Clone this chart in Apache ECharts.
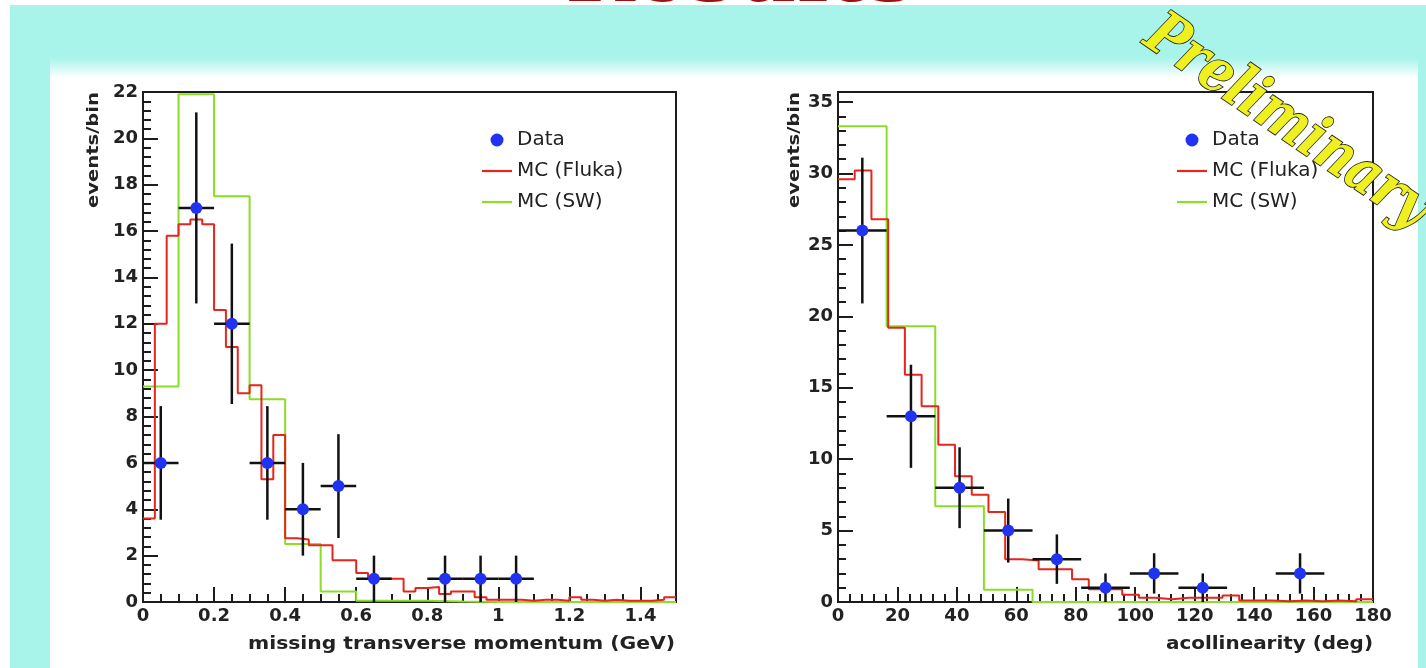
<!DOCTYPE html>
<html><head><meta charset="utf-8">
<script src="https://cdn.jsdelivr.net/npm/echarts@6/dist/echarts.min.js"></script>
<style>html,body{margin:0;padding:0;background:#fff}#c{width:1426px;height:668px}</style>
</head><body><div id="c"></div>
<script>
// ---------- DATA ----------
// Left: missing transverse momentum (GeV), range 0 - 1.5
const ptRange = [0, 1.5];
const ptData    = [6, 17, 12, 6, 4, 5, 1, 0, 1, 1, 1, 0, 0, 0, 0];            // 15 bins
const ptDataErr = [2.45, 4.12, 3.46, 2.45, 2.0, 2.24, 1.0, 0, 1.0, 1.0, 1.0, 0, 0, 0, 0];
const ptFluka = [3.6, 12.0, 15.8, 16.3, 16.5, 16.3, 12.6, 11.0, 9.0, 9.35,
                 5.3, 7.2, 2.75, 2.7, 2.45, 2.45, 1.8, 1.8, 1.25, 1.0,
                 1.0, 1.0, 0.45, 0.6, 0.65, 0.35, 0.45, 0.45, 0.2, 0.1,
                 0.1, 0.1, 0.05, 0.1, 0.1, 0.05, 0.2, 0.1, 0.05, 0.1,
                 0.05, 0.05, 0.05, 0.1, 0.2];                                   // 45 bins
const ptSW = [9.3, 21.9, 17.5, 8.75, 2.5, 0.45, 0.05, 0.05, 0.02, 0, 0, 0, 0, 0, 0]; // 15 bins
const ptXTicks = {min: 0, max: 1.5, step: 0.2};
const ptYTicks = {min: 0, max: 22, step: 2};

// Right: acollinearity (deg), range 0 - 180
const acRange = [0, 180];
const acData    = [26, 13, 8, 5, 3, 1, 2, 1, 0, 2, 0];                          // 11 bins
const acDataErr = [5.1, 3.61, 2.83, 2.24, 1.73, 1.0, 1.41, 1.0, 0, 1.41, 0];
const acFluka = [29.6, 30.2, 26.8, 19.2, 15.9, 13.7, 11.0, 8.8, 7.5, 6.3,
                 3.0, 2.9, 2.3, 2.3, 1.6, 0.9, 0.9, 0.5, 0.3, 0.2,
                 0.3, 0.3, 0.3, 0.45, 0.1, 0.1, 0.05, 0.1, 0.05, 0.1,
                 0.05, 0.2];                                                     // 32 bins
const acSW = [33.3, 19.3, 6.7, 0.85, 0, 0, 0, 0, 0, 0, 0];                       // 11 bins
const acXTicks = {min: 0, max: 180, step: 20};
const acYTicks = {min: 0, max: 35.7, step: 5};

const legendNames = ['Data', 'MC (Fluka)', 'MC (SW)'];
const titles = {
  ptX: 'missing transverse momentum (GeV)',
  acX: 'acollinearity (deg)',
  y: 'events/bin'
};

// ---------- helpers ----------
function stepData(vals, range) {
  const w = (range[1] - range[0]) / vals.length;
  const out = vals.map((v, i) => [range[0] + i * w, v]);
  out.push([range[1], vals[vals.length - 1]]);
  return out;
}
function pointData(vals, errs, range) {
  const w = (range[1] - range[0]) / vals.length;
  const out = [];
  vals.forEach((v, i) => { if (v > 0) out.push([range[0] + (i + 0.5) * w, v, errs[i], w / 2]); });
  return out;
}
const ctx = document.createElement('canvas').getContext('2d');
function measure(text, font) { ctx.font = font; return ctx.measureText(text).width; }

const C_RED = '#e4261c', C_GREEN = '#8cdc2a', C_BLUE = '#2133f2', C_INK = '#1c1c1c';
const labelFont = {fontFamily: 'DejaVu Sans', fontWeight: 'bold', fontSize: 18, color: '#222'};
const LINE_ICON = 'path://M0,0 L30,0 L30,2.2 L0,2.2 Z';

function errRender(params, api) {
  const x = api.value(0), y = api.value(1), e = api.value(2), hw = api.value(3);
  const l = api.coord([x - hw, y]), r = api.coord([x + hw, y]);
  const t = api.coord([x, y + e]), b = api.coord([x, Math.max(0, y - e)]);
  const st = {stroke: '#111', lineWidth: 2.5};
  return {type: 'group', children: [
    {type: 'line', shape: {x1: l[0], y1: l[1], x2: r[0], y2: r[1]}, style: st},
    {type: 'line', shape: {x1: t[0], y1: t[1], x2: b[0], y2: b[1]}, style: st}
  ]};
}

function axisCommon(t, minorSplit, formatter) {
  return {
    type: 'value', min: t.min, max: t.max, interval: t.step,
    axisLine: {show: true, lineStyle: {color: C_INK, width: 2}},
    axisTick: {show: true, inside: true, length: 15, lineStyle: {color: C_INK, width: 2}},
    minorTick: {show: true, splitNumber: minorSplit, length: 8, lineStyle: {color: C_INK, width: 2}},
    splitLine: {show: false},
    axisLabel: Object.assign({margin: 5, formatter: formatter}, labelFont)
  };
}
function stepFmt(step) {
  return v => {
    const k = Math.round(v / step);
    if (Math.abs(v / step - k) > 1e-6) return '';
    return String(Math.round(k * step * 10) / 10);
  };
}

function titleText(text, x, y, targetW, fontSize, rotation) {
  const font = 'bold ' + fontSize + 'px "DejaVu Sans"';
  const s = targetW / measure(text, font);
  return {type: 'text', x: x, y: y, rotation: rotation, scaleX: s, z: 50,
    style: {text: text, fontFamily: 'DejaVu Sans', fontWeight: 'bold', fontSize: fontSize,
      fill: '#222', align: 'right', verticalAlign: 'middle'}};
}
function legendCfg(left) {
  return {left: left, top: 125, orient: 'vertical', itemWidth: 30, itemHeight: 13, itemGap: 11,
    selectedMode: false,
    data: [
      {name: legendNames[0], icon: 'circle'},
      {name: legendNames[1], icon: LINE_ICON},
      {name: legendNames[2], icon: LINE_ICON}
    ],
    textStyle: {fontFamily: 'DejaVu Sans', fontSize: 20, color: '#222'}};
}

const chart = echarts.init(document.getElementById('c'), null, {renderer: 'canvas'});

const prelimFont = 'italic bold 60px "DejaVu Serif"';
const prelimScale = 330 / measure('Preliminary', prelimFont);

const option = {
  animation: false,
  backgroundColor: '#a8f4ea',
  graphic: [
    {type: 'rect', z: -20, shape: {x: 0, y: 0, width: 1426, height: 5}, style: {fill: '#ffffff'}},
    {type: 'rect', z: -20, shape: {x: 0, y: 0, width: 10, height: 668}, style: {fill: '#ffffff'}},
    {type: 'rect', z: -20, shape: {x: 50, y: 58, width: 1368, height: 20},
      style: {fill: new echarts.graphic.LinearGradient(0, 0, 0, 1, [{offset: 0, color: '#a8f4ea'}, {offset: 1, color: '#ffffff'}])}},
    {type: 'rect', z: -20, shape: {x: 50, y: 78, width: 1368, height: 590}, style: {fill: '#ffffff'}},
    {type: 'text', z: 40, x: 740, y: -21,
      style: {text: 'Results', fontFamily: 'DejaVu Serif', fontWeight: 'bold', fontSize: 84,
        fill: '#a01010', align: 'center', verticalAlign: 'middle',
        shadowColor: '#300', shadowOffsetX: 2, shadowOffsetY: 3, shadowBlur: 2}},
    {type: 'text', z: 60, x: 1150, y: 30, rotation: -0.6, scaleX: prelimScale,
      style: {text: 'Preliminary', fontFamily: 'DejaVu Serif', fontStyle: 'italic', fontWeight: 'bold', fontSize: 60,
        fill: '#eef020', stroke: '#222', lineWidth: 1.8, align: 'left', verticalAlign: 'middle',
        shadowColor: 'rgba(0,0,0,0.9)', shadowOffsetX: 4, shadowOffsetY: 4, shadowBlur: 2}},
    titleText(titles.ptX, 675, 645, 427, 17, 0),
    titleText(titles.acX, 1373, 645, 207, 17, 0),
    titleText(titles.y, 94, 92, 116, 16, Math.PI / 2),
    titleText(titles.y, 795, 92, 116, 16, Math.PI / 2)
  ],
  grid: [
    {left: 143, top: 92, width: 533, height: 510, show: true, borderColor: C_INK, borderWidth: 2, backgroundColor: 'transparent'},
    {left: 838, top: 92, width: 535, height: 510, show: true, borderColor: C_INK, borderWidth: 2, backgroundColor: 'transparent'}
  ],
  xAxis: [
    Object.assign({gridIndex: 0}, axisCommon(ptXTicks, 4, stepFmt(ptXTicks.step))),
    Object.assign({gridIndex: 1}, axisCommon(acXTicks, 5, stepFmt(acXTicks.step)))
  ],
  yAxis: [
    Object.assign({gridIndex: 0}, axisCommon(ptYTicks, 5, stepFmt(ptYTicks.step))),
    Object.assign({gridIndex: 1}, axisCommon(acYTicks, 5, stepFmt(acYTicks.step)))
  ],
  legend: [legendCfg(477), legendCfg(1172)],
  series: [
    {name: 'Data', type: 'scatter', xAxisIndex: 0, yAxisIndex: 0, z: 6, symbol: 'circle', symbolSize: 12,
     itemStyle: {color: C_BLUE, opacity: 1}, data: pointData(ptData, ptDataErr, ptRange).map(d => [d[0], d[1]])},
    {name: 'MC (Fluka)', type: 'line', xAxisIndex: 0, yAxisIndex: 0, z: 3, step: 'end', symbol: 'none',
     lineStyle: {color: C_RED, width: 2}, itemStyle: {color: C_RED}, data: stepData(ptFluka, ptRange)},
    {name: 'MC (SW)', type: 'line', xAxisIndex: 0, yAxisIndex: 0, z: 2, step: 'end', symbol: 'none',
     lineStyle: {color: C_GREEN, width: 2}, itemStyle: {color: C_GREEN}, data: stepData(ptSW, ptRange)},
    {name: 'Data', type: 'custom', xAxisIndex: 0, yAxisIndex: 0, z: 4, renderItem: errRender,
     encode: {x: 0, y: 1}, data: pointData(ptData, ptDataErr, ptRange)},

    {name: 'Data', type: 'scatter', xAxisIndex: 1, yAxisIndex: 1, z: 6, symbol: 'circle', symbolSize: 12,
     itemStyle: {color: C_BLUE, opacity: 1}, data: pointData(acData, acDataErr, acRange).map(d => [d[0], d[1]])},
    {name: 'MC (Fluka)', type: 'line', xAxisIndex: 1, yAxisIndex: 1, z: 3, step: 'end', symbol: 'none',
     lineStyle: {color: C_RED, width: 2}, itemStyle: {color: C_RED}, data: stepData(acFluka, acRange)},
    {name: 'MC (SW)', type: 'line', xAxisIndex: 1, yAxisIndex: 1, z: 2, step: 'end', symbol: 'none',
     lineStyle: {color: C_GREEN, width: 2}, itemStyle: {color: C_GREEN}, data: stepData(acSW, acRange)},
    {name: 'Data', type: 'custom', xAxisIndex: 1, yAxisIndex: 1, z: 4, renderItem: errRender,
     encode: {x: 0, y: 1}, data: pointData(acData, acDataErr, acRange)}
  ]
};
chart.setOption(option);
</script></body></html>
